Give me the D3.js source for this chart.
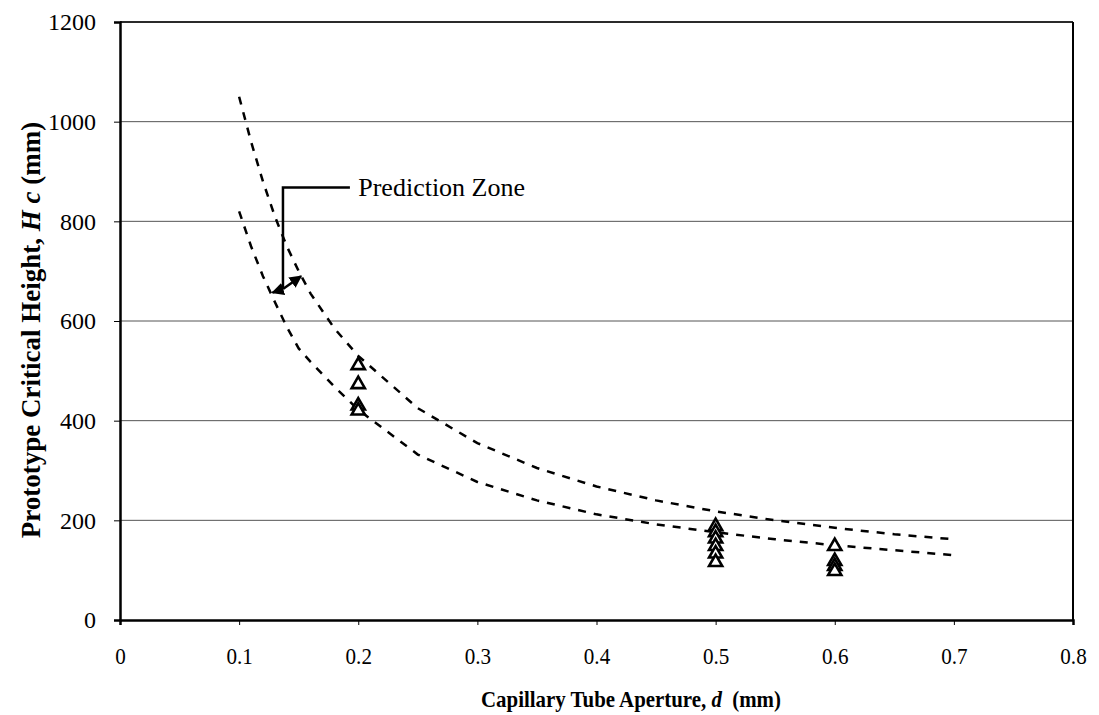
<!DOCTYPE html>
<meta charset="utf-8">
<style>
    body { margin: 0; background: #fff; }
    .axis text { font-family: "Liberation Serif", serif; font-size: 24px; fill: #000; }
    .axis path, .axis line { stroke: #000; }
    .grid line { stroke: #555; stroke-width: 1; }
    .curve { fill: none; stroke: #000; stroke-width: 2.5; stroke-dasharray: 8 8; }
    .pt { fill: #fff; stroke: #000; stroke-width: 2.6; }
    .title { font-family: "Liberation Serif", serif; font-weight: bold; }
</style>
<body>
<script src="https://cdn.jsdelivr.net/npm/d3@7"></script>
<script>

    var width = 1099,
        height = 715;

    // tick values
    var xTicks = [0, 0.1, 0.2, 0.3, 0.4, 0.5, 0.6, 0.7, 0.8];
    var yTicks = [0, 200, 400, 600, 800, 1000, 1200];

    // measured points (aperture mm, height mm)
    var testD = [0.2, 0.2, 0.2, 0.2, 0.5, 0.5, 0.5, 0.5, 0.5, 0.5, 0.6, 0.6, 0.6, 0.6];
    var testH = [513, 475, 432, 422, 190, 178, 165, 150, 135, 118, 150, 120, 110, 100];

    // prediction zone bounds
    var upperD = [0.1, 0.11, 0.12, 0.13, 0.14, 0.15, 0.16, 0.18, 0.2, 0.25, 0.3, 0.35, 0.4, 0.45, 0.5, 0.55, 0.6, 0.65, 0.7];
    var upperH = [1050, 960, 880, 810, 750, 700, 655, 585, 530, 425, 355, 305, 268, 240, 218, 200, 185, 172, 162];
    var lowerD = [0.1, 0.11, 0.12, 0.13, 0.14, 0.15, 0.16, 0.18, 0.2, 0.25, 0.3, 0.35, 0.4, 0.45, 0.5, 0.55, 0.6, 0.65, 0.7];
    var lowerH = [820, 750, 690, 638, 588, 545, 518, 468, 422, 332, 277, 240, 212, 192, 176, 162, 150, 140, 130];

    var margin = {top: 22, right: 26, bottom: 95, left: 120};

    var x = d3.scaleLinear().domain([0, 0.8]).range([margin.left, width - margin.right]);
    var y = d3.scaleLinear().domain([0, 1200]).range([height - margin.bottom, margin.top]);

    var svg = d3.select("body").append("svg")
        .attr("width", width)
        .attr("height", height);

    // gridlines
    svg.append("g")
        .attr("class", "grid")
        .selectAll("line")
        .data(yTicks.slice(1))
        .enter().append("line")
        .attr("x1", x(0)).attr("x2", x(0.8))
        .attr("y1", function(d) { return y(d); })
        .attr("y2", function(d) { return y(d); });

    // plot area border
    svg.append("line")
        .attr("x1", x(0.8)).attr("x2", x(0.8))
        .attr("y1", y(0)).attr("y2", y(1200))
        .attr("stroke", "#000").attr("stroke-width", 2);
    svg.append("line")
        .attr("x1", x(0)).attr("x2", x(0.8))
        .attr("y1", y(1200)).attr("y2", y(1200))
        .attr("stroke", "#000").attr("stroke-width", 1.5);

    var xAxis = svg.append("g")
        .attr("class", "axis")
        .attr("transform", "translate(0," + y(0) + ")")
        .call(d3.axisBottom(x).tickValues(xTicks).tickSize(5).tickPadding(22)
            .tickFormat(function(d) { return d === 0 ? "0" : d3.format(".1f")(d); }));
    xAxis.select(".domain").attr("stroke-width", 2.5);
    // narrow the labels like the scanned original, keep them centred
    xAxis.selectAll(".tick text").attr("transform", "scale(0.88,1)");

    var yAxis = svg.append("g")
        .attr("class", "axis")
        .attr("transform", "translate(" + x(0) + ",0)")
        .call(d3.axisLeft(y).tickValues(yTicks).tickSize(6).tickPadding(18).tickFormat(d3.format("d")));
    yAxis.select(".domain").attr("stroke-width", 2.5);

    var line = d3.line()
        .x(function(d) { return x(d[0]); })
        .y(function(d) { return y(d[1]); });

    svg.append("path")
        .attr("class", "curve")
        .attr("d", line(d3.zip(upperD, upperH)));
    svg.append("path")
        .attr("class", "curve")
        .attr("d", line(d3.zip(lowerD, lowerH)));

    svg.append("g")
        .selectAll("path")
        .data(d3.zip(testD, testH))
        .enter().append("path")
        .attr("class", "pt")
        .attr("transform", function(d) { return "translate(" + x(d[0]) + "," + (y(d[1]) + 1) + ")"; })
        .attr("d", d3.symbol().type(d3.symbolTriangle).size(75));

    // annotation
    var defs = svg.append("defs");
    defs.append("marker")
        .attr("id", "head")
        .attr("viewBox", "0 0 10 10")
        .attr("refX", 9).attr("refY", 5)
        .attr("markerWidth", 5).attr("markerHeight", 5)
        .attr("orient", "auto")
        .append("path").attr("d", "M0,0L10,5L0,10z").attr("fill", "#000");

    var corner = [0.1368, 868],
        base = [0.1368, 664],
        tipLow = [0.128, 657],
        tipUp = [0.152, 690];

    svg.append("polyline")
        .attr("points", [[x(0.193), y(868)], [x(corner[0]), y(corner[1])], [x(base[0]), y(base[1])]].join(" "))
        .attr("fill", "none").attr("stroke", "#000").attr("stroke-width", 2.5);
    [tipLow, tipUp].forEach(function(t) {
        svg.append("line")
            .attr("x1", x(base[0])).attr("y1", y(base[1]))
            .attr("x2", x(t[0])).attr("y2", y(t[1]))
            .attr("stroke", "#000").attr("stroke-width", 2.5)
            .attr("marker-end", "url(#head)");
    });
    svg.append("text")
        .attr("x", x(0.2)).attr("y", y(868) + 9)
        .style("font-family", "Liberation Serif, serif")
        .style("font-size", "26px")
        .text("Prediction Zone");

    // axis titles
    var xt = svg.append("text")
        .attr("class", "title")
        .attr("transform", "translate(631,707) scale(0.87,1)")
        .attr("text-anchor", "middle")
        .style("font-size", "24px");
    xt.append("tspan").text("Capillary Tube Aperture, ");
    xt.append("tspan").style("font-style", "italic").text("d");
    xt.append("tspan").text("\u00a0 (mm)");

    var yt = svg.append("text")
        .attr("class", "title")
        .attr("transform", "translate(40," + 330 + ") rotate(-90)")
        .attr("text-anchor", "middle")
        .style("font-size", "27px");
    yt.append("tspan").text("Prototype Critical Height, ");
    yt.append("tspan").style("font-style", "italic").text("H c");
    yt.append("tspan").text(" (mm)");

</script>
